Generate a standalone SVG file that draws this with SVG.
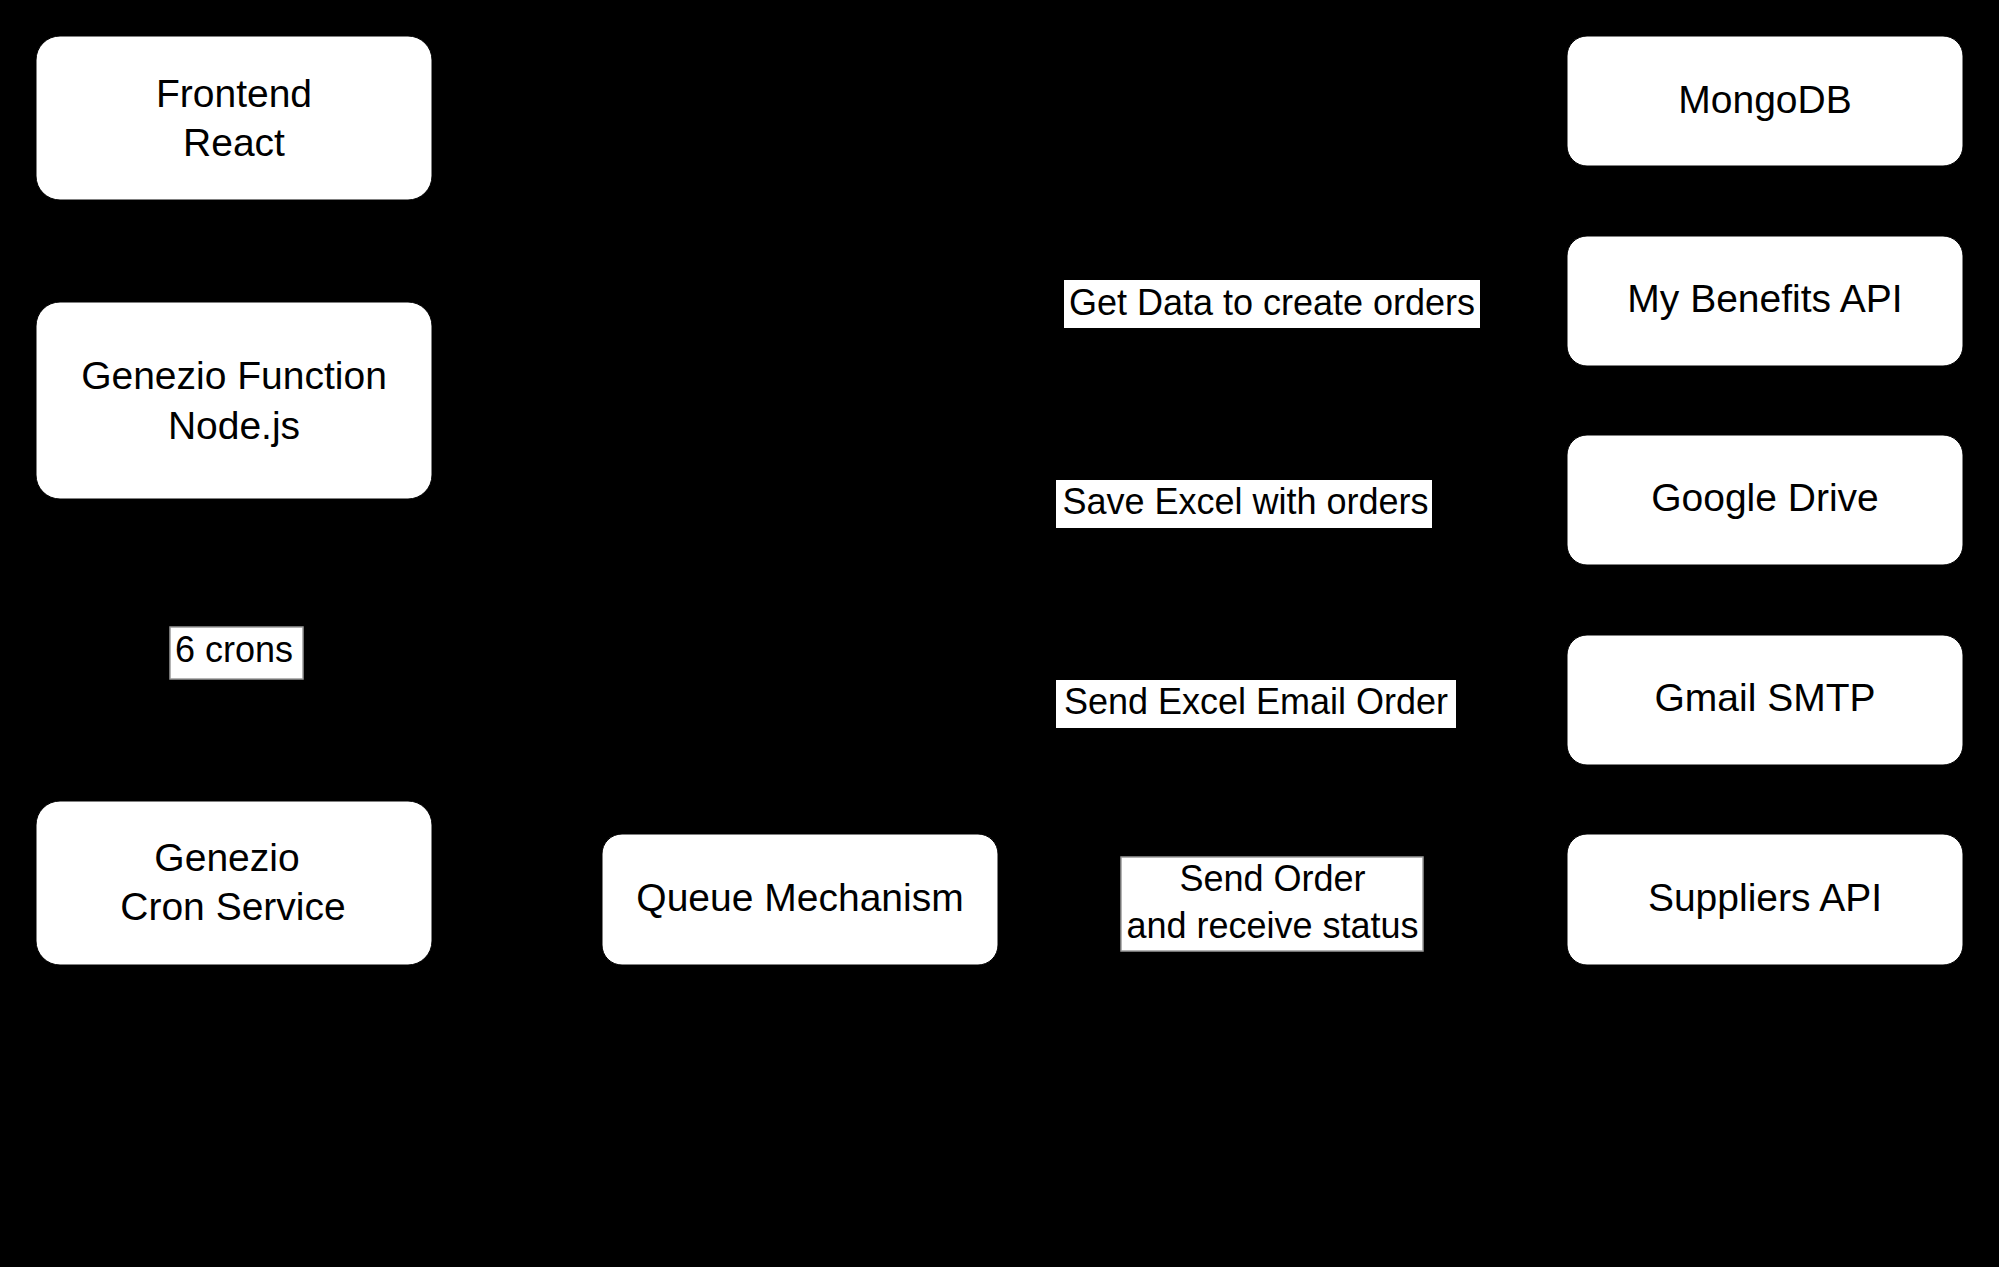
<svg xmlns="http://www.w3.org/2000/svg" width="1999" height="1267" viewBox="0 0 1999 1267">
<style>
.node{fill:#ffffff;stroke:#000000;stroke-width:1}
.nt{font-family:"Liberation Sans",Arial,Helvetica,sans-serif;font-size:39px;fill:#000000;text-anchor:middle}
.lt{font-family:"Liberation Sans",Arial,Helvetica,sans-serif;font-size:36px;fill:#000000;text-anchor:middle}
.lbg{fill:#ffffff}
.edge{fill:none;stroke:#000000;stroke-width:2.5}
</style>
<defs>
<marker id="arr" markerWidth="10" markerHeight="10" refX="9" refY="5" orient="auto" markerUnits="strokeWidth">
<path d="M0,1 L9,5 L0,9 Z" fill="#000000"/>
</marker>
</defs>
<rect x="0" y="0" width="1999" height="1267" fill="#000000"/>
<g id="connectors">
<path class="edge" d="M234,200 L234,302" marker-end="url(#arr)"/>
<path class="edge" d="M234,499 L234,801" marker-end="url(#arr)"/>
<path class="edge" d="M432,883 L602,900" marker-end="url(#arr)"/>
<path class="edge" d="M998,900 L1030,900 L1030,301 L1568,301" marker-end="url(#arr)"/>
<path class="edge" d="M998,900 L1030,900 L1030,500 L1568,500" marker-end="url(#arr)"/>
<path class="edge" d="M998,900 L1030,900 L1030,700 L1568,700" marker-end="url(#arr)"/>
<path class="edge" d="M998,900 L1568,900" marker-end="url(#arr)"/>
</g>
<g id="frontend">
<rect class="node" x="36" y="36" width="396" height="164" rx="24"/>
<text class="nt" x="234" y="107">Frontend</text>
<text class="nt" x="234" y="156">React</text>
</g>
<g id="genezio-function">
<rect class="node" x="36" y="302" width="396" height="197" rx="24"/>
<text class="nt" x="234" y="388.5">Genezio Function</text>
<text class="nt" x="234" y="438.5">Node.js</text>
</g>
<g id="genezio-cron">
<rect class="node" x="36" y="801" width="396" height="164" rx="24"/>
<text class="nt" x="227" y="870.5">Genezio</text>
<text class="nt" x="233" y="920">Cron Service</text>
</g>
<g id="queue">
<rect class="node" x="602" y="834" width="396" height="131" rx="20"/>
<text class="nt" x="800" y="910.5">Queue Mechanism</text>
</g>
<g id="mongodb">
<rect class="node" x="1567" y="36" width="396" height="130" rx="20"/>
<text class="nt" x="1765" y="113">MongoDB</text>
</g>
<g id="mybenefits">
<rect class="node" x="1567" y="236" width="396" height="130" rx="20"/>
<text class="nt" x="1765" y="312">My Benefits API</text>
</g>
<g id="googledrive">
<rect class="node" x="1567" y="435" width="396" height="130" rx="20"/>
<text class="nt" x="1765" y="511">Google Drive</text>
</g>
<g id="gmail">
<rect class="node" x="1567" y="635" width="396" height="130" rx="20"/>
<text class="nt" x="1765" y="711">Gmail SMTP</text>
</g>
<g id="suppliers">
<rect class="node" x="1567" y="834" width="396" height="131" rx="20"/>
<text class="nt" x="1765" y="911">Suppliers API</text>
</g>
<g id="labels">
<rect class="lbg" x="170" y="627" width="133" height="52" stroke="#9a9a9a" stroke-width="1.5"/>
<text class="lt" x="234" y="662">6 crons</text>
<rect class="lbg" x="1064" y="280" width="416" height="48"/>
<text class="lt" x="1272" y="315">Get Data to create orders</text>
<rect class="lbg" x="1056" y="480" width="376" height="48"/>
<text class="lt" x="1245.5" y="513.5">Save Excel with orders</text>
<rect class="lbg" x="1056" y="680" width="400" height="48"/>
<text class="lt" x="1256" y="714">Send Excel Email Order</text>
<rect class="lbg" x="1121" y="857" width="302" height="94" stroke="#9a9a9a" stroke-width="1.5"/>
<text class="lt" x="1272.5" y="890.5">Send Order</text>
<text class="lt" x="1272.5" y="937.5">and receive status</text>
</g>
</svg>
